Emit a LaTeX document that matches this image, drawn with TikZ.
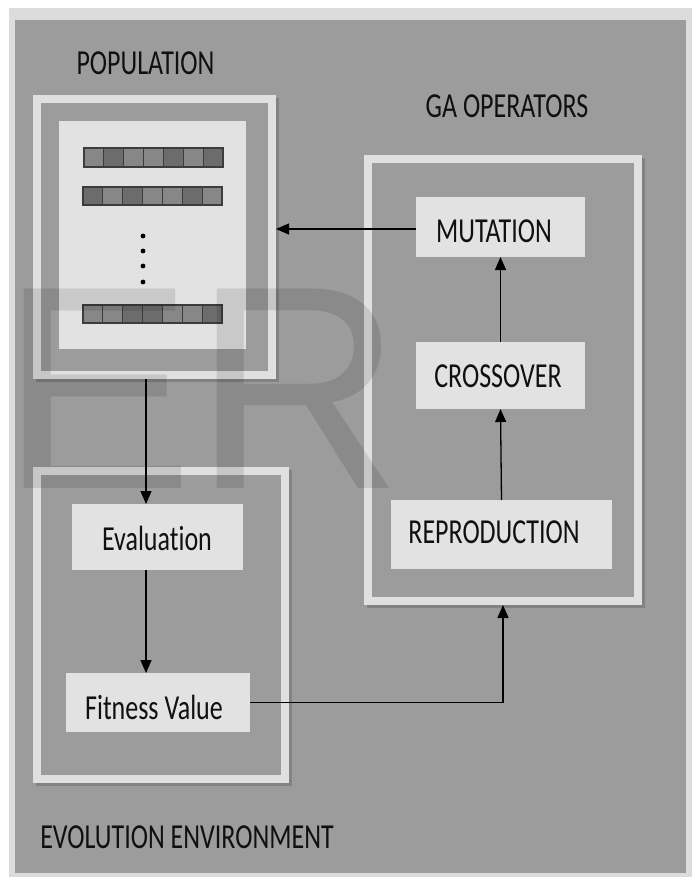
\documentclass[tikz,border=0pt]{standalone}
\usepackage{fontspec}
\usepackage{graphicx}
\setmainfont{Carlito}[Ligatures={NoCommon}]
\newfontfamily\wmfont{Liberation Sans}
\usetikzlibrary{arrows.meta,calc}
\definecolor{darkbg}{HTML}{9C9C9C}
\definecolor{lightbd}{HTML}{DCDCDC}
\definecolor{band}{HTML}{E0E0E0}
\definecolor{boxfill}{HTML}{E2E2E2}
\definecolor{shade}{HTML}{828282}
\definecolor{cellm}{HTML}{878787}
\definecolor{celld}{HTML}{6C6C6C}
\definecolor{cellline}{HTML}{3C3C3C}
\definecolor{txt}{HTML}{101010}
\newcommand{\mylbl}[1]{\scalebox{1}[1.35]{#1}}
\tikzset{
  frame/.style={draw=band, line width=8pt, fill=darkbg, inner sep=0pt, outer sep=4pt,
    preaction={draw=shade, fill=shade, line width=8pt, transform canvas={shift={(3pt,-3pt)}}}},
  opbox/.style={fill=boxfill, draw=none, inner sep=0pt, outer sep=0pt},
  lbl/.style={inner sep=0pt, text=txt, font=\fontsize{26}{26}\selectfont},
  arr/.style={draw=black, line width=1.3pt, -{Triangle[length=13pt,width=11pt]}},
}
\begin{document}
\begin{tikzpicture}[x=1pt,y=-1pt]
\useasboundingbox (0,0) rectangle (692,878);
\fill[white] (0,0) rectangle (692,878);
\fill[lightbd] (9,8) rectangle (692,877);
\fill[darkbg] (15,20) rectangle (686,873);

% frames
\node[frame, minimum width=235pt, minimum height=276pt] (pop) at (154.5,237) {};
\node[frame, minimum width=270pt, minimum height=442pt] (ga) at (503,380) {};
\node[frame, minimum width=248pt, minimum height=308pt] (evo) at (161,625) {};

% population panel
\node[opbox, minimum width=187pt, minimum height=228pt] (panel) at (152.5,235) {};
\foreach \c [count=\i from 0] in {m,d,m,m,d,m,d}
  \filldraw[fill=cell\c, draw=cellline, line width=1.2pt] (84+\i*19.85,148) rectangle ++(19.85,19);
\foreach \c [count=\i from 0] in {d,m,d,m,m,d,m}
  \filldraw[fill=cell\c, draw=cellline, line width=1.2pt] (83+\i*19.85,187) rectangle ++(19.85,18);
\foreach \c [count=\i from 0] in {m,m,d,d,m,m,d}
  \filldraw[fill=cell\c, draw=cellline, line width=1.2pt] (83+\i*19.85,305) rectangle ++(19.85,18);
\foreach \y in {236,251,266,282}
  \fill[black] (143,\y) circle (2.4pt);

% operator boxes
\node[opbox, minimum width=169pt, minimum height=60pt] (mut) at (500.5,227) {};
\node[opbox, minimum width=169pt, minimum height=67pt] (cross) at (500.5,375.5) {};
\node[opbox, minimum width=221pt, minimum height=69pt] (repro) at (501.5,534.5) {};
\node[opbox, minimum width=171pt, minimum height=66pt] (eval) at (157.5,537) {};
\node[opbox, minimum width=184pt, minimum height=59pt] (fit) at (158,702.5) {};

% texts
\node[lbl] (tmut) at (494,231) {\mylbl{MUTATION}};
\node[lbl] (tcross) at (498,376) {\mylbl{CROSSOVER}};
\node[lbl] (trepro) at (494,532) {\mylbl{REPRODUCTION}};
\node[lbl] (teval) at (157,538) {\mylbl{Evaluation}};
\node[lbl] (tfit) at (154,707) {\mylbl{Fitness Value}};
\node[lbl] (tpop) at (145.5,63) {\mylbl{POPULATION}};
\node[lbl] (tga) at (507,106) {\mylbl{GA OPERATORS}};
\node[lbl] (tevo) at (187,837) {\mylbl{EVOLUTION ENVIRONMENT}};

% connectors
\draw[arr] ([xshift=-11.5pt]eval.north |- pop.south) -- ([xshift=-11.5pt]eval.north);
\draw[arr] ([xshift=-11.5pt]eval.south) -- ([xshift=-11.5pt]eval.south |- fit.north);
\draw[arr] (fit.east) -| (ga.south);
\draw[arr] (repro.north) -- (cross.south);
\draw[arr] (cross.north) -- (mut.south);
\draw[arr] ([yshift=-2pt]mut.west) -- ([yshift=-2pt]mut.west -| pop.east);

% watermark
\node[anchor=base west, inner sep=0pt, text=black, text opacity=0.11,
  font=\wmfont\fontsize{290}{290}\selectfont] (wm) at (0,488) {\smash{ER}};
\end{tikzpicture}
\end{document}
